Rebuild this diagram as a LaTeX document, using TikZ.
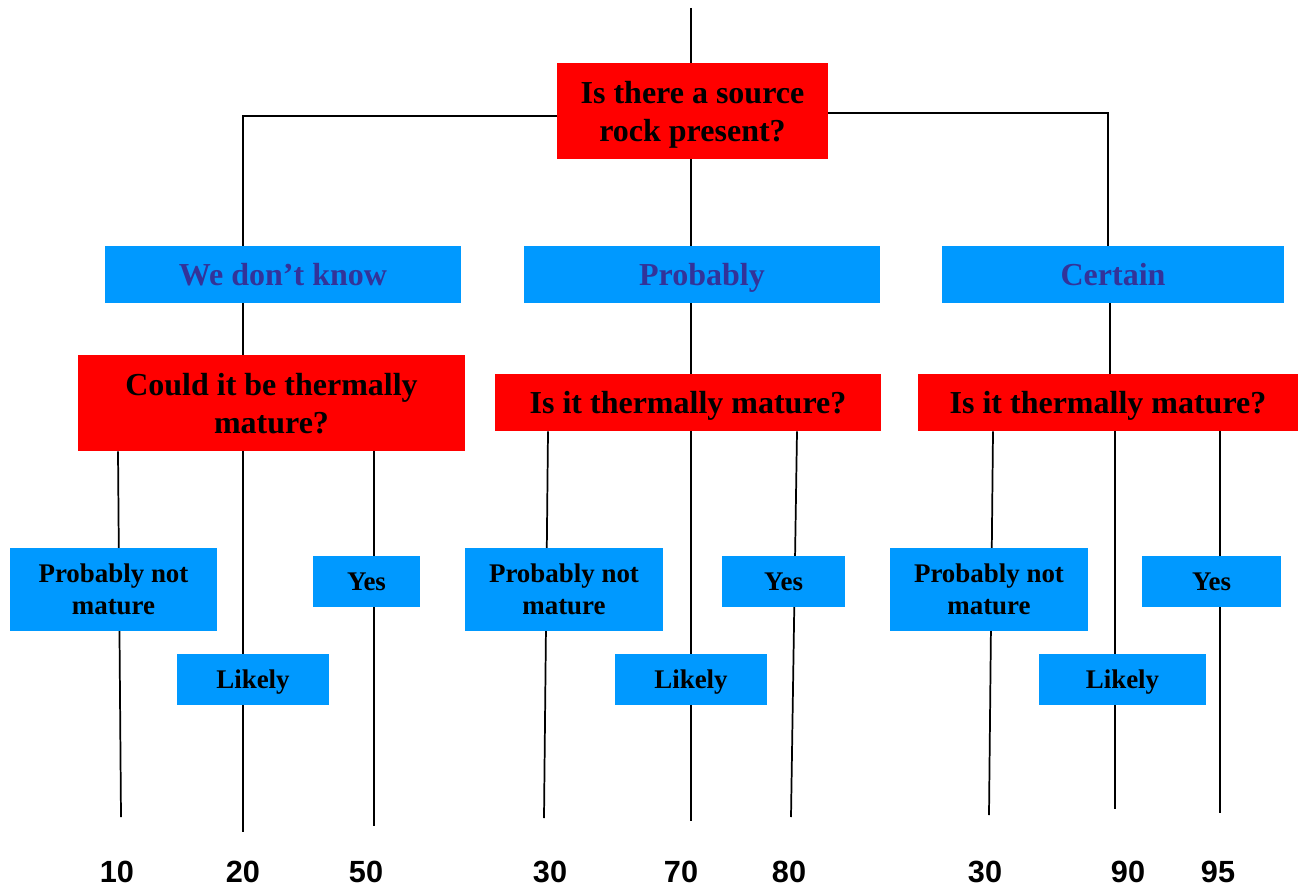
\documentclass[tikz,border=0pt]{standalone}
\usepackage{fontspec}
\setmainfont{Liberation Serif}
\newfontfamily\numfont{Liberation Sans}
\usetikzlibrary{positioning}
\pgfdeclarelayer{background}
\pgfsetlayers{background,main}
\definecolor{qred}{HTML}{FF0000}
\definecolor{qblue}{HTML}{0099FF}
\definecolor{qtext}{HTML}{333399}
\tikzset{
	question/.style={fill=qred, inner sep=0pt, text depth=0pt, align=center, font=\bfseries\fontsize{24}{28.5}\selectfont},
	answer/.style={fill=qblue, inner sep=0pt, text depth=0pt, text=qtext, font=\bfseries\fontsize{24}{28.5}\selectfont},
	choice/.style={fill=qblue, inner sep=0pt, text depth=0pt, align=center, font=\bfseries\fontsize{20.2}{24}\selectfont},
	score/.style={inner sep=0pt, font=\numfont\bfseries\fontsize{23}{27}\selectfont},
	wh/.style 2 args={minimum width=#1*0.75pt, minimum height=#2*0.75pt},
	link/.style={line width=1.3pt}
}
\begin{document}
\begin{tikzpicture}[x=0.75pt,y=-0.75pt]
	\useasboundingbox (0,0) rectangle (1298,887);

	% questions
	\node[question, wh={271}{96}] (src) at (692.5,111) {Is there a source\\rock present?};
	\node[question, wh={387}{96}] (q1) at (271.5,403) {Could it be thermally\\mature?};
	\node[question, wh={386}{57}] (q2) at (688,402.5) {Is it thermally mature?};
	\node[question, wh={380}{57}] (q3) at (1108,402.5) {Is it thermally mature?};

	% first answers
	\node[answer, wh={356}{57}] (dk) at (283,274.5) {We don't know};
	\node[answer, wh={356}{57}] (pr) at (702,274.5) {Probably};
	\node[answer, wh={342}{57}] (ce) at (1113,274.5) {Certain};

	% maturity answers
	\node[choice, wh={207}{83}] (a1) at (113.5,589.5) {Probably not\\mature};
	\node[choice, wh={152}{51}] (a2) at (253,679.5) {Likely};
	\node[choice, wh={107}{51}] (a3) at (366.5,581.5) {Yes};
	\node[choice, wh={198}{83}] (b1) at (564,589.5) {Probably not\\mature};
	\node[choice, wh={152}{51}] (b2) at (691,679.5) {Likely};
	\node[choice, wh={123}{51}] (b3) at (783.5,581.5) {Yes};
	\node[choice, wh={198}{83}] (c1) at (989,589.5) {Probably not\\mature};
	\node[choice, wh={167}{51}] (c2) at (1122.5,679.5) {Likely};
	\node[choice, wh={139}{51}] (c3) at (1211.5,581.5) {Yes};

	% scores
	\node[score] (n1) at (117,872) {10};
	\node[score] (n2) at (243,872) {20};
	\node[score] (n3) at (366,872) {50};
	\node[score] (n4) at (550,872) {30};
	\node[score] (n5) at (681,872) {70};
	\node[score] (n6) at (789,872) {80};
	\node[score] (n7) at (985,872) {30};
	\node[score] (n8) at (1128,872) {90};
	\node[score] (n9) at (1218,872) {95};

	\coordinate (in) at (691,8);
	\coordinate (kl) at (243,116);
	\coordinate (kr) at (1108,113);

	\begin{pgfonlayer}{background}
		\draw[link] (in) -- (in |- src.north);
		\draw[link] (src.west |- kl) -- (kl) -- (kl |- dk.north);
		\draw[link] (src.east |- kr) -- (kr) -- (kr |- ce.north);
		\draw[link] (in |- src.south) -- (in |- pr.north);
		\draw[link] (kl |- dk.south) -- (kl |- q1.north);
		\draw[link] (in |- pr.south) -- (in |- q2.north);
		\draw[link] (ce.south -| 1110,0) -- (q3.north -| 1110,0);

		% lines down to the scores
		\foreach \q/\xa/\xb/\yb in {q1/118/121/817, q1/243/243/832, q1/374/374/826,
			q2/548/544/818, q2/691/691/821, q2/797/791/817,
			q3/993/989/815, q3/1115/1115/809, q3/1220/1220/813}
			\draw[link] (\q.south -| \xa,0) -- (\xb,\yb);
	\end{pgfonlayer}
\end{tikzpicture}
\end{document}
